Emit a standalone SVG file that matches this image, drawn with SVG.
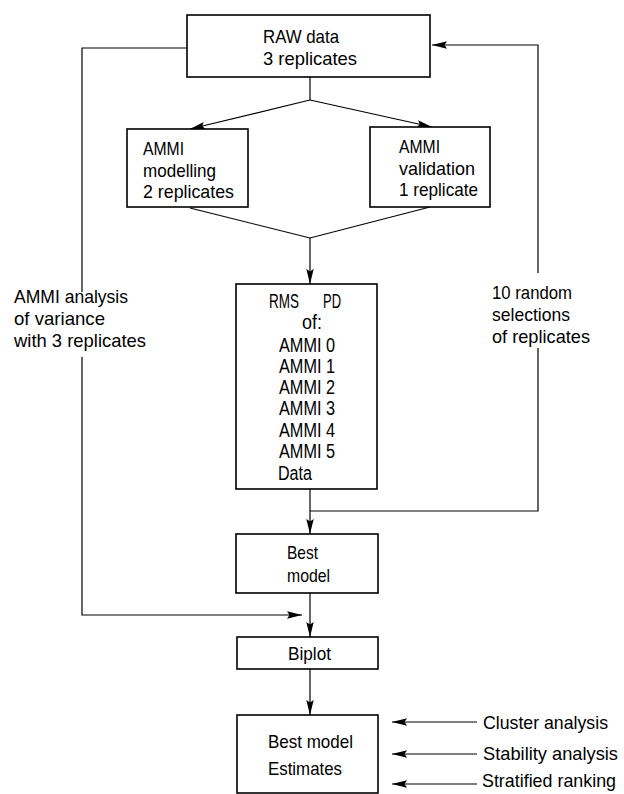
<svg xmlns="http://www.w3.org/2000/svg" width="624" height="794" viewBox="0 0 624 794">
<style>
.box{fill:#fff;stroke:#000;stroke-width:1.6}
.ln{fill:none;stroke:#000;stroke-width:1.2}
.ar{fill:none;stroke:#000;stroke-width:1.2;marker-end:url(#ah)}
text{font-family:"Liberation Sans",Arial,sans-serif;font-size:19px;fill:#000}
.rm{font-size:20px}
</style>
<defs>
<marker id="ah" markerUnits="userSpaceOnUse" markerWidth="16" markerHeight="9" refX="15" refY="4.5" orient="auto">
<path d="M0,0.8 L15,4.5 L0,8.2 L2.5,4.5 z" fill="#000"/>
</marker>
</defs>
<rect width="624" height="794" fill="#fff"/>
<g id="connectors">
<polyline class="ln" points="310,77 310,100"/>
<line class="ar" x1="310" y1="100" x2="190" y2="129"/>
<line class="ar" x1="310" y1="100" x2="432" y2="127"/>
<polyline class="ln" points="190,208 310,238 430,207"/>
<line class="ar" x1="310" y1="238" x2="310" y2="284"/>
<line class="ar" x1="310" y1="489" x2="310" y2="534"/>
<polyline class="ln" points="310,511 538,511 538,348"/>
<polyline class="ar" points="538,273 538,45 432,45"/>
<polyline class="ln" points="187,48 82,48 82,292"/>
<polyline class="ar" points="82,357 82,615 302,615"/>
<line class="ar" x1="310" y1="593" x2="310" y2="637"/>
<line class="ar" x1="310" y1="669" x2="310" y2="715"/>
<line class="ar" x1="477" y1="722" x2="392" y2="722"/>
<line class="ar" x1="477" y1="754" x2="392" y2="754"/>
<line class="ar" x1="477" y1="784" x2="392" y2="784"/>
</g>
<g id="raw">
<rect class="box" x="187" y="15" width="243" height="62"/>
<text x="263" y="43" textLength="76" lengthAdjust="spacingAndGlyphs">RAW data</text>
<text x="263" y="65" textLength="94" lengthAdjust="spacingAndGlyphs">3 replicates</text>
</g>
<g id="modelling">
<rect class="box" x="127" y="129" width="121" height="78"/>
<text x="143" y="155" textLength="41" lengthAdjust="spacingAndGlyphs">AMMI</text>
<text x="143" y="177" textLength="73" lengthAdjust="spacingAndGlyphs">modelling</text>
<text x="143" y="198" textLength="91" lengthAdjust="spacingAndGlyphs">2 replicates</text>
</g>
<g id="validation">
<rect class="box" x="370" y="127" width="120" height="80"/>
<text x="399" y="153" textLength="41" lengthAdjust="spacingAndGlyphs">AMMI</text>
<text x="399" y="175" textLength="76" lengthAdjust="spacingAndGlyphs">validation</text>
<text x="399" y="196" textLength="79" lengthAdjust="spacingAndGlyphs">1 replicate</text>
</g>
<g id="rmspd">
<rect class="box" x="236" y="284" width="141" height="205"/>
<text class="rm" x="269" y="308" textLength="30" lengthAdjust="spacingAndGlyphs">RMS</text>
<text class="rm" x="323" y="308" textLength="18" lengthAdjust="spacingAndGlyphs">PD</text>
<text class="rm" x="302" y="329" textLength="20" lengthAdjust="spacingAndGlyphs">of:</text>
<text class="rm" x="279" y="352" textLength="56" lengthAdjust="spacingAndGlyphs">AMMI 0</text>
<text class="rm" x="279" y="373" textLength="56" lengthAdjust="spacingAndGlyphs">AMMI 1</text>
<text class="rm" x="279" y="394" textLength="56" lengthAdjust="spacingAndGlyphs">AMMI 2</text>
<text class="rm" x="279" y="415" textLength="56" lengthAdjust="spacingAndGlyphs">AMMI 3</text>
<text class="rm" x="279" y="437" textLength="56" lengthAdjust="spacingAndGlyphs">AMMI 4</text>
<text class="rm" x="279" y="458" textLength="56" lengthAdjust="spacingAndGlyphs">AMMI 5</text>
<text class="rm" x="278" y="480" textLength="34" lengthAdjust="spacingAndGlyphs">Data</text>
</g>
<g id="bestmodel">
<rect class="box" x="236" y="534" width="142" height="59"/>
<text x="287" y="559" textLength="31" lengthAdjust="spacingAndGlyphs">Best</text>
<text x="287" y="582" textLength="43" lengthAdjust="spacingAndGlyphs">model</text>
</g>
<g id="biplot">
<rect class="box" x="237" y="637" width="141" height="32"/>
<text x="288" y="660" textLength="43" lengthAdjust="spacingAndGlyphs">Biplot</text>
</g>
<g id="estimates">
<rect class="box" x="237" y="715" width="141" height="78"/>
<text x="268" y="748" textLength="85" lengthAdjust="spacingAndGlyphs">Best model</text>
<text x="268" y="775" textLength="74" lengthAdjust="spacingAndGlyphs">Estimates</text>
</g>
<g id="label-anova">
<text x="14" y="303" textLength="114" lengthAdjust="spacingAndGlyphs">AMMI analysis</text>
<text x="14" y="325" textLength="91" lengthAdjust="spacingAndGlyphs">of variance</text>
<text x="14" y="347" textLength="132" lengthAdjust="spacingAndGlyphs">with 3 replicates</text>
</g>
<g id="label-random">
<text x="492" y="299" textLength="80" lengthAdjust="spacingAndGlyphs">10 random</text>
<text x="492" y="321" textLength="78" lengthAdjust="spacingAndGlyphs">selections</text>
<text x="492" y="343" textLength="98" lengthAdjust="spacingAndGlyphs">of replicates</text>
</g>
<g id="cluster"><text x="483" y="729" textLength="125" lengthAdjust="spacingAndGlyphs">Cluster analysis</text></g>
<g id="stability"><text x="483" y="760" textLength="135" lengthAdjust="spacingAndGlyphs">Stability analysis</text></g>
<g id="stratified"><text x="482" y="787" font-size="18" textLength="134" lengthAdjust="spacingAndGlyphs">Stratified ranking</text></g>
</svg>
